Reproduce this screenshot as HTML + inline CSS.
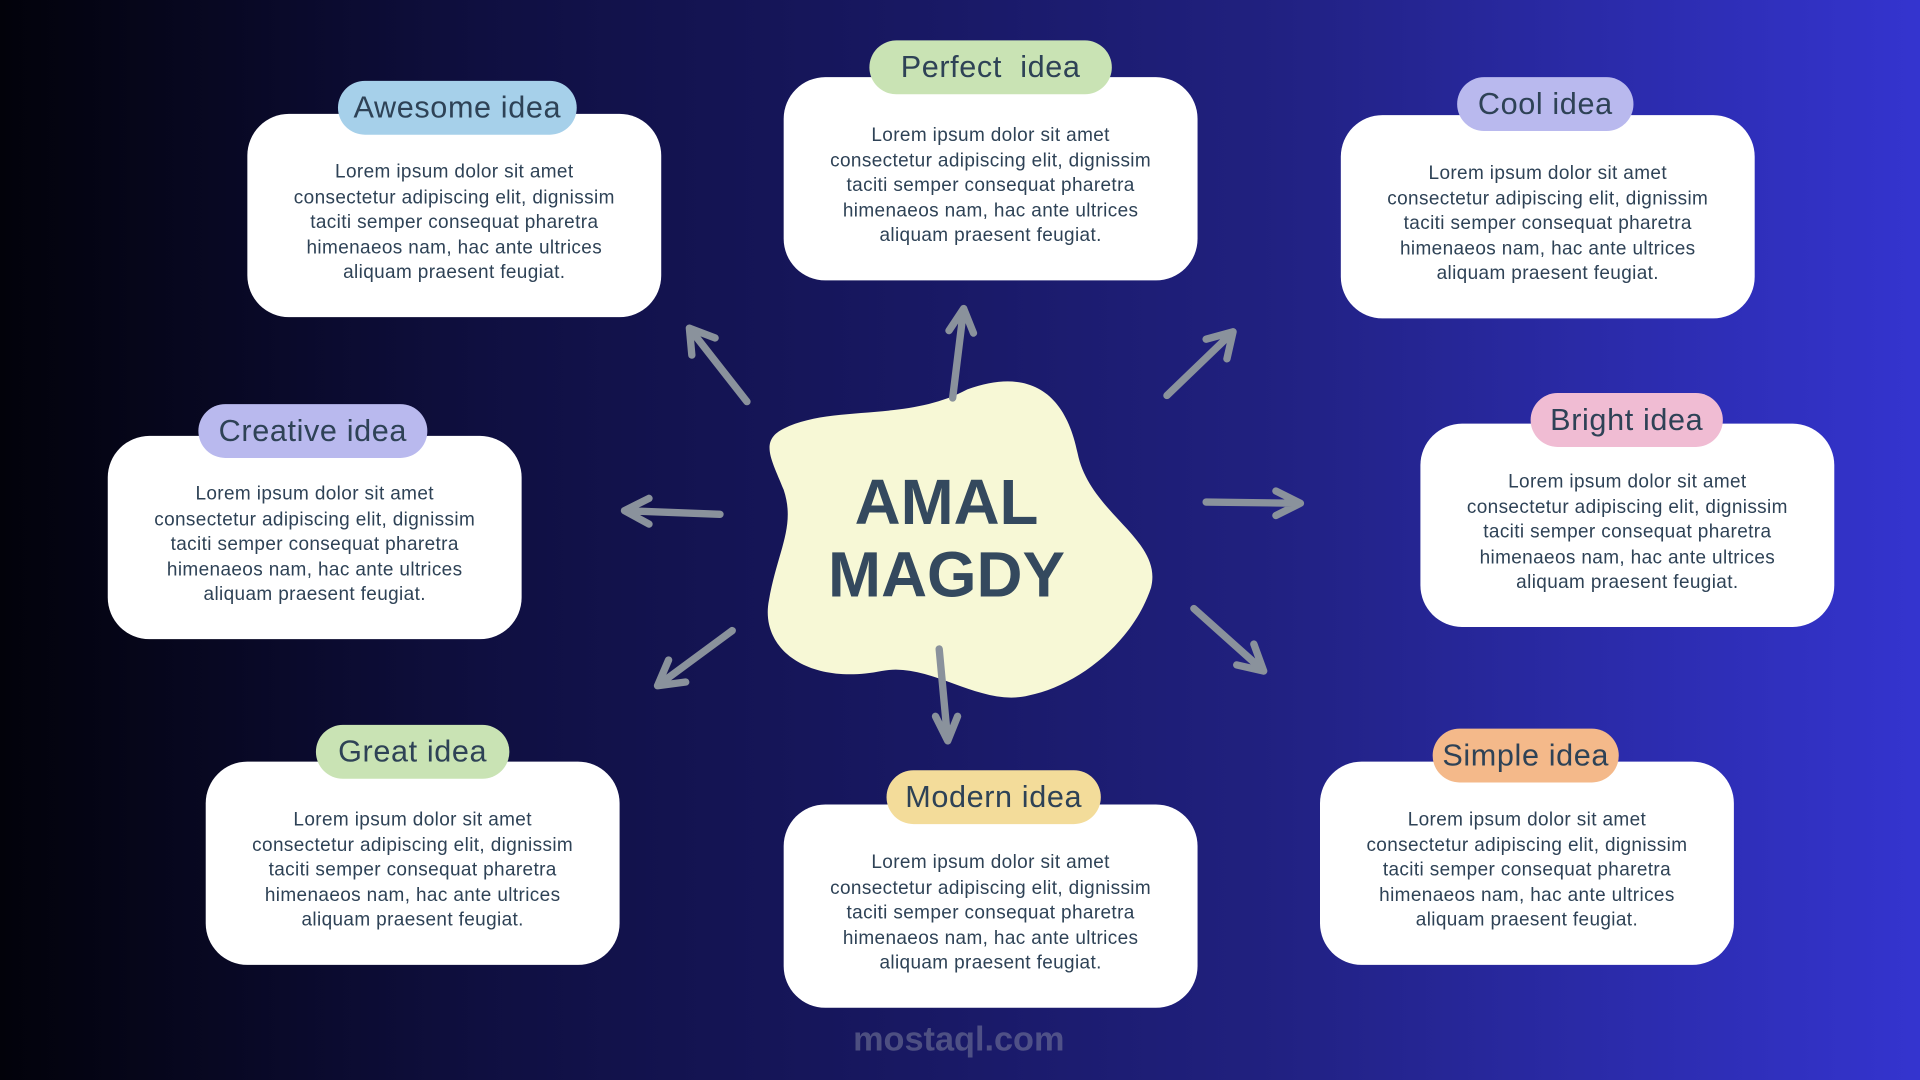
<!DOCTYPE html>
<html><head><meta charset="utf-8"><style>
html,body{margin:0;padding:0;width:1920px;height:1080px;overflow:hidden;}
#s{position:absolute;left:0;top:0;width:1568px;height:882px;transform:scale(1.22449);transform-origin:0 0;
background:linear-gradient(90deg,#02020a 0%,#0f0f40 25%,#17175f 45%,#20207e 65%,#3434cf 100%);font-family:"Liberation Sans",sans-serif;}
.card{position:absolute;background:#fff;border-radius:34px;width:338px;height:166px;box-sizing:border-box;}
.card p{margin:0;position:absolute;left:0;right:0;top:38px;text-align:center;font-size:15.5px;line-height:20.5px;color:#2e4256;letter-spacing:0.3px;}
.tab{position:absolute;height:44px;border-radius:22px;text-align:center;line-height:44px;font-size:25px;color:#2e4256;letter-spacing:0.5px;}
</style></head><body><div id="s">
<svg width="1568" height="882" style="position:absolute;left:0;top:0">
<path d="M640,350 C680,330 740,345 790,318 C840,300 870,320 880,370 C890,420 950,440 940,480 C925,525 880,560 840,568 C800,578 760,540 720,548 C660,560 620,530 628,490 C635,450 650,430 640,400 C630,375 620,360 640,350Z" fill="#f7f8d6"/>
<g stroke="#8a929c" stroke-width="6" stroke-linecap="round" fill="none">
<path d="M610,328 L563,268 M563,268 L565,290 M563,268 L584,276"/>
<path d="M778,325 L787,252 M787,252 L775,270 M787,252 L795,272"/>
<path d="M953,323 L1007,271 M1007,271 L985,277 M1007,271 L1002,293"/>
<path d="M588,420 L510,417 M510,417 L530,407 M510,417 L530,428"/>
<path d="M985,410 L1062,411 M1062,411 L1042,401 M1062,411 L1042,421"/>
<path d="M598,515 L537,560 M537,560 L560,557 M537,560 L546,539"/>
<path d="M767,530 L774,605 M774,605 L764,585 M774,605 L782,585"/>
<path d="M975,497 L1032,548 M1032,548 L1024,526 M1032,548 L1010,543"/>
</g>
<text x="773" y="428" text-anchor="middle" font-family="Liberation Sans" font-weight="bold" font-size="52" fill="#34495e">AMAL</text>
<text x="773" y="487" text-anchor="middle" font-family="Liberation Sans" font-weight="bold" font-size="52" fill="#34495e">MAGDY</text>
<text x="783" y="858" text-anchor="middle" font-family="Liberation Sans" font-weight="bold" font-size="28" fill="#8f93a8" opacity="0.45">mostaql.com</text>
</svg>

<div class="card" style="left:202px;top:93px"><p>Lorem ipsum dolor sit amet<br>consectetur adipiscing elit, dignissim<br>taciti semper consequat pharetra<br>himenaeos nam, hac ante ultrices<br>aliquam praesent feugiat.</p></div>
<div class="tab" style="left:276px;top:66px;width:195px;background:#a6d0ea">Awesome idea</div>

<div class="card" style="left:640px;top:63px"><p>Lorem ipsum dolor sit amet<br>consectetur adipiscing elit, dignissim<br>taciti semper consequat pharetra<br>himenaeos nam, hac ante ultrices<br>aliquam praesent feugiat.</p></div>
<div class="tab" style="left:710px;top:33px;width:198px;background:#c9e3b4">Perfect &nbsp;idea</div>

<div class="card" style="left:1095px;top:94px"><p>Lorem ipsum dolor sit amet<br>consectetur adipiscing elit, dignissim<br>taciti semper consequat pharetra<br>himenaeos nam, hac ante ultrices<br>aliquam praesent feugiat.</p></div>
<div class="tab" style="left:1190px;top:63px;width:144px;background:#b9b9ee">Cool idea</div>

<div class="card" style="left:88px;top:356px"><p>Lorem ipsum dolor sit amet<br>consectetur adipiscing elit, dignissim<br>taciti semper consequat pharetra<br>himenaeos nam, hac ante ultrices<br>aliquam praesent feugiat.</p></div>
<div class="tab" style="left:162px;top:330px;width:187px;background:#b9b9ee">Creative idea</div>

<div class="card" style="left:1160px;top:346px"><p>Lorem ipsum dolor sit amet<br>consectetur adipiscing elit, dignissim<br>taciti semper consequat pharetra<br>himenaeos nam, hac ante ultrices<br>aliquam praesent feugiat.</p></div>
<div class="tab" style="left:1250px;top:321px;width:157px;background:#f0bcd3">Bright idea</div>

<div class="card" style="left:168px;top:622px"><p>Lorem ipsum dolor sit amet<br>consectetur adipiscing elit, dignissim<br>taciti semper consequat pharetra<br>himenaeos nam, hac ante ultrices<br>aliquam praesent feugiat.</p></div>
<div class="tab" style="left:258px;top:592px;width:158px;background:#c9e3b4">Great idea</div>

<div class="card" style="left:640px;top:657px"><p>Lorem ipsum dolor sit amet<br>consectetur adipiscing elit, dignissim<br>taciti semper consequat pharetra<br>himenaeos nam, hac ante ultrices<br>aliquam praesent feugiat.</p></div>
<div class="tab" style="left:724px;top:629px;width:175px;background:#f3dc9a">Modern idea</div>

<div class="card" style="left:1078px;top:622px"><p>Lorem ipsum dolor sit amet<br>consectetur adipiscing elit, dignissim<br>taciti semper consequat pharetra<br>himenaeos nam, hac ante ultrices<br>aliquam praesent feugiat.</p></div>
<div class="tab" style="left:1170px;top:595px;width:152px;background:#f4b98a">Simple idea</div>
</div></body></html>
